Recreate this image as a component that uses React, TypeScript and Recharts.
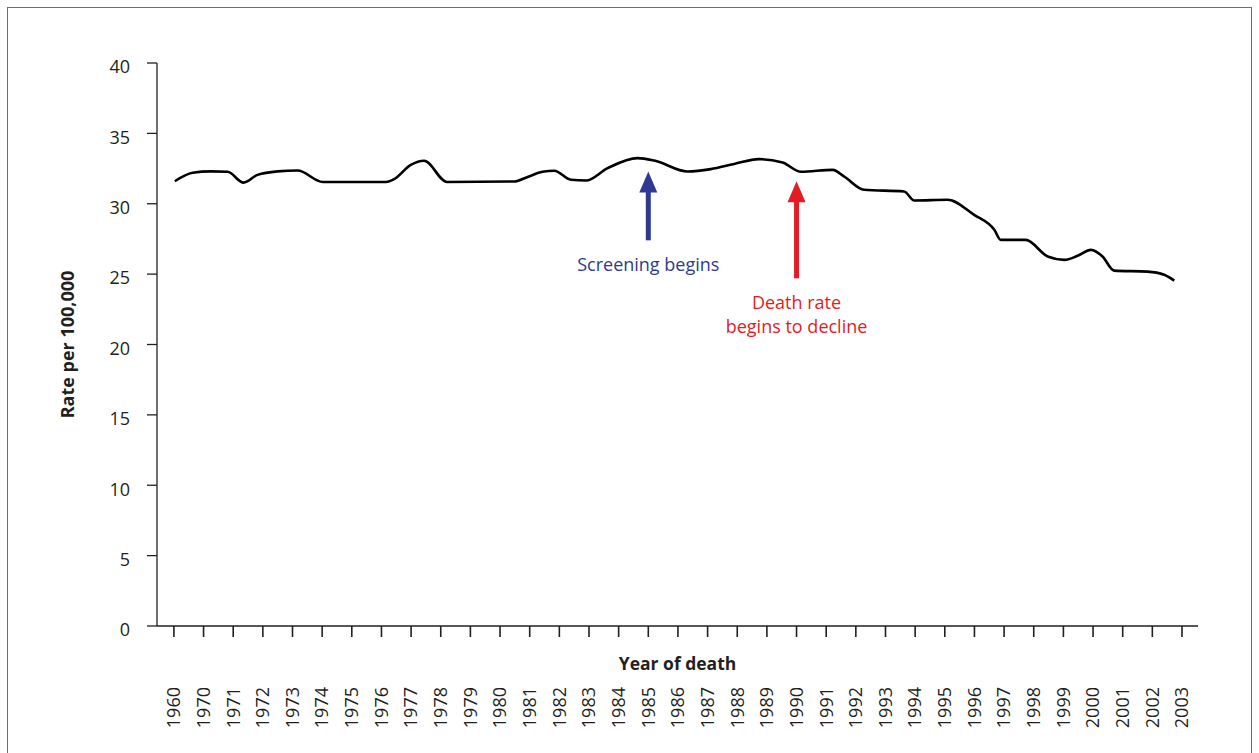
import { LineChart, Line, XAxis, YAxis, ReferenceLine } from 'recharts'

// x axis slots: 0 = 1960, 1 = 1970, 2 = 1971 ... 34 = 2003
const yearLabels = [
  '1960', '1970', '1971', '1972', '1973', '1974', '1975', '1976', '1977', '1978',
  '1979', '1980', '1981', '1982', '1983', '1984', '1985', '1986', '1987', '1988',
  '1989', '1990', '1991', '1992', '1993', '1994', '1995', '1996', '1997', '1998',
  '1999', '2000', '2001', '2002', '2003',
]
const rateTicks = [0, 5, 10, 15, 20, 25, 30, 35, 40]

// traced curve: position along the axis (in slots) and rate per 100,000
const curvePos = [
  0.03, 0.63, 1.25, 1.81, 2.35, 2.82, 3.5, 4.17, 5.02, 7.15, 7.43, 7.99, 8.44, 9.21,
  11.48, 11.93, 12.43, 12.83, 13.39, 13.9, 14.63, 15.64, 16.2, 17.33, 18.11, 18.9,
  19.73, 20.53, 21.15, 22.22, 22.61, 23.28, 24.63, 24.97, 26.09, 26.99, 27.67, 27.89,
  28.73, 29.47, 30.03, 30.48, 30.93, 31.32, 31.71, 32.84, 33.4, 33.74,
]
const curveRate = [
  31.6, 32.2, 32.3, 32.27, 31.5, 32.05, 32.3, 32.36, 31.55, 31.55, 31.75, 32.76, 33.05, 31.55,
  31.58, 31.9, 32.27, 32.34, 31.7, 31.65, 32.53, 33.24, 33.07, 32.29, 32.46, 32.83,
  33.17, 32.93, 32.27, 32.41, 31.93, 30.99, 30.87, 30.23, 30.28, 29.21, 28.15, 27.43,
  27.43, 26.25, 26.01, 26.3, 26.72, 26.25, 25.25, 25.18, 24.95, 24.54,
]

// annotation arrows
const markerSlot = [16, 21]
const markerTip = [32.3, 31.6]
const markerBase = [27.4, 24.7]
const markerText = [['Screening begins'], ['Death rate', 'begins to decline']]
const markerColor = ['#2e3a91', '#e31b23']

const data = curvePos.map((pos, i) => ({ pos, rate: curveRate[i] }))
const slots = yearLabels.map((_, i) => i)

const FONT = '"Open Sans", sans-serif'

const YTick = ({ x, y, payload }: any) => (
  <text x={x} y={y + 4} dy="0.35em" textAnchor="end" fontSize={18} fontFamily={FONT} fill="#231f20">
    {payload.value}
  </text>
)

const XTick = ({ x, y, payload }: any) => (
  <text
    transform={`translate(${x},${y}) rotate(-90)`}
    dy="0.35em"
    textAnchor="end"
    fontSize={18}
    fontFamily={FONT}
    fill="#231f20"
  >
    {yearLabels[payload.value]}
  </text>
)

const Arrow = ({ x1, y1, x2, y2, color, lines }: any) => {
  const head = 21
  const half = 9
  return (
    <g>
      <line x1={x1} y1={y1} x2={x2} y2={y2 + head - 1} stroke={color} strokeWidth={5} />
      <polygon points={`${x2},${y2} ${x2 - half},${y2 + head} ${x2 + half},${y2 + head}`} fill={color} />
      {lines.map((t: string, i: number) => (
        <text
          key={t}
          x={x1}
          y={y1 + 24 + i * 24.5}
          dy="0.35em"
          textAnchor="middle"
          fontSize={18}
          fontFamily={FONT}
          fill={color}
        >
          {t}
        </text>
      ))}
    </g>
  )
}

const RateLabel = ({ viewBox }: any) => (
  <text
    transform={`translate(${viewBox.x + 68},${viewBox.y + viewBox.height / 2}) rotate(-90)`}
    dy="0.35em"
    textAnchor="middle"
    fontSize={18}
    fontWeight={700}
    fontFamily={FONT}
    fill="#231f20"
  >
    Rate per 100,000
  </text>
)

export default function App() {
  return (
    <div style={{ position: 'absolute', left: 0, top: 0, width: 1259, height: 753, background: '#fff' }}>
      <div
        style={{
          position: 'absolute',
          left: 7,
          top: 7,
          width: 1245,
          height: 746,
          boxSizing: 'border-box',
          borderLeft: '1.5px solid #6d6e71',
          borderTop: '1.5px solid #6d6e71',
          borderRight: '1.5px solid #6d6e71',
        }}
      />
      <LineChart
        width={1259}
        height={753}
        data={data}
        margin={{ top: 63, right: 61, bottom: 67, left: 0 }}
        style={{ position: 'absolute', left: 0, top: 0 }}
      >
        <XAxis
          type="number"
          dataKey="pos"
          domain={[-0.57, 34.54]}
          ticks={slots}
          interval={0}
          allowDataOverflow
          height={60}
          tickSize={11}
          tickMargin={50}
          tick={<XTick />}
          axisLine={{ stroke: '#231f20', strokeWidth: 1.3 }}
          tickLine={{ stroke: '#231f20', strokeWidth: 1.6 }}
          label={{
            value: 'Year of death',
            position: 'insideTop',
            offset: 32,
            style: { fontSize: 17.5, fontWeight: 700, fontFamily: FONT, fill: '#231f20' },
          }}
        />
        <YAxis
          type="number"
          domain={[0, 40]}
          ticks={rateTicks}
          interval={0}
          width={157}
          tickSize={10}
          tickMargin={17}
          tick={<YTick />}
          axisLine={{ stroke: '#231f20', strokeWidth: 1.3 }}
          tickLine={{ stroke: '#231f20', strokeWidth: 1.3 }}
          label={{ content: <RateLabel /> }}
        />
        {markerSlot.map((slot, i) => (
          <ReferenceLine
            key={slot}
            segment={[
              { x: slot, y: markerBase[i] },
              { x: slot, y: markerTip[i] },
            ]}
            shape={(p: any) => <Arrow {...p} color={markerColor[i]} lines={markerText[i]} />}
          />
        ))}
        <Line
          type="monotone"
          dataKey="rate"
          stroke="#000"
          strokeWidth={2.6}
          dot={false}
          isAnimationActive={false}
        />
      </LineChart>
    </div>
  )
}
